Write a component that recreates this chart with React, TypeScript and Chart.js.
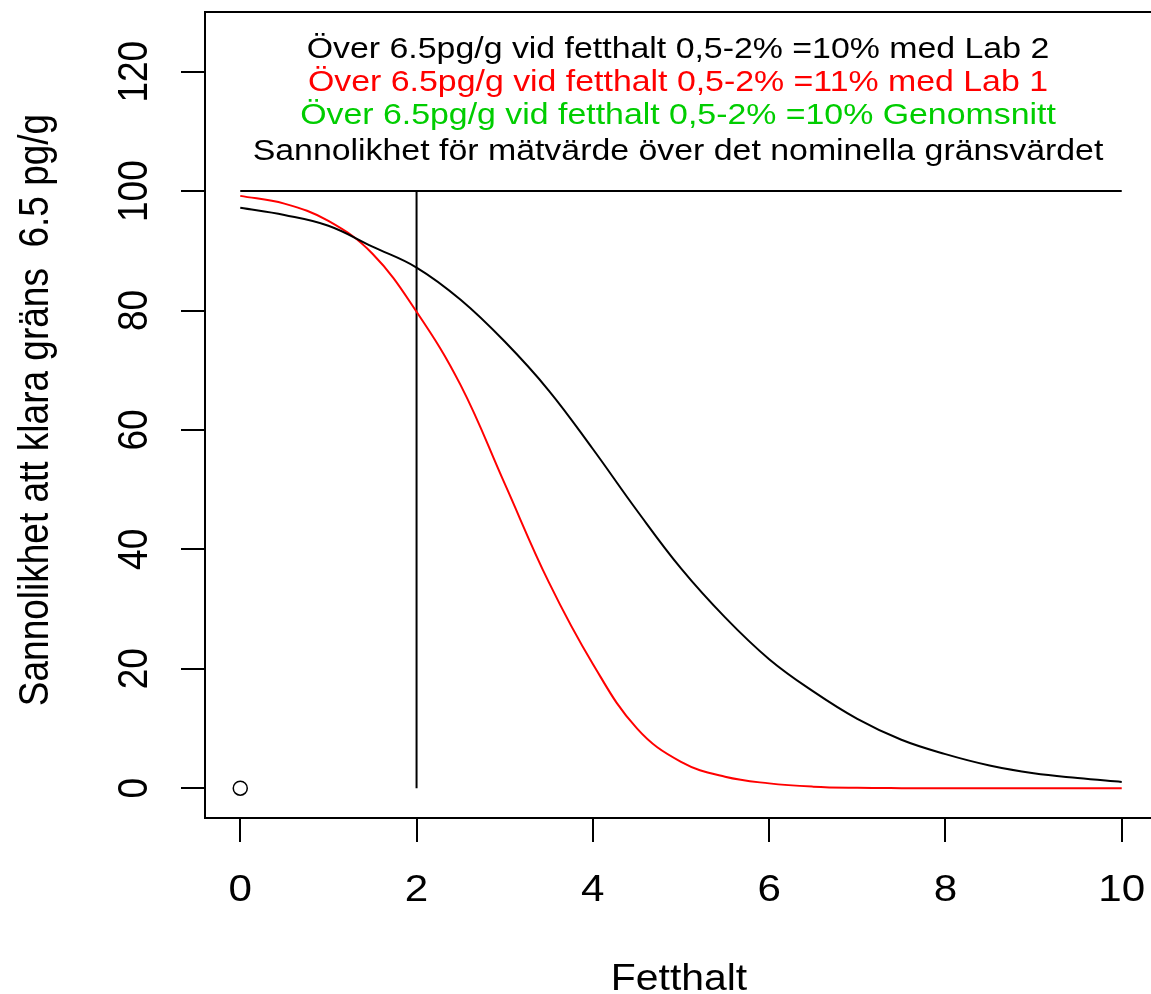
import React, { useEffect, useRef } from "react";
import { Chart, registerables } from "chart.js";

Chart.register(...registerables);

const xValues = [0, 0.5, 1, 1.5, 2, 2.5, 3, 3.5, 4, 4.5, 5, 5.5, 6, 6.5, 7, 7.5, 8, 8.5, 9, 9.5, 10];
const lab2Values = [97.2, 96.0, 94.2, 90.7, 87.2, 81.8, 74.8, 66.6, 56.8, 46.5, 36.8, 28.6, 21.6, 16.2, 11.6, 8.1, 5.7, 3.8, 2.5, 1.7, 1.05];
const lab1Values = [99.2, 97.9, 95.0, 89.5, 79.8, 67.5, 51.0, 34.5, 20.8, 10.0, 4.4, 1.9, 0.8, 0.25, 0.05, 0, 0, 0, 0, 0, 0];
const limitLineX = [0, 10];
const limitLineY = [100, 100];
const cutLineX = [2, 2];
const cutLineY = [0, 100];
const originPoint = [0, 0];

const xTicks = [0, 2, 4, 6, 8, 10];
const yTicks = [0, 20, 40, 60, 80, 100, 120];
const titleLines = [
  "Över 6.5pg/g vid fetthalt 0,5-2% =10% med Lab 2",
  "Över 6.5pg/g vid fetthalt 0,5-2% =11% med Lab 1",
  "Över 6.5pg/g vid fetthalt 0,5-2% =10% Genomsnitt",
  "Sannolikhet för mätvärde över det nominella gränsvärdet",
];
const titleColors = ["#000000", "#FF0000", "#00CD00", "#000000"];
const xTitle = "Fetthalt";
const yTitle = "Sannolikhet att klara gräns  6.5 pg/g";

const FONT = "'Liberation Sans', Arial, sans-serif";
const SX = 1.14;

const CANVAS_W = 1170;
const CANVAS_H = 994;

const axesPlugin = {
  id: "rAxes",
  afterDraw(chart: any) {
    const ctx = chart.ctx as CanvasRenderingContext2D;
    const xs = chart.scales.x;
    const ys = chart.scales.y;
    const a = chart.chartArea;
    ctx.save();
    ctx.strokeStyle = "#000";
    ctx.lineWidth = 2;
    ctx.strokeRect(a.left, a.top, a.right - a.left, a.bottom - a.top);

    ctx.beginPath();
    for (const t of xTicks) {
      const px = Math.round(xs.getPixelForValue(t));
      ctx.moveTo(px, a.bottom);
      ctx.lineTo(px, a.bottom + 24);
    }
    for (const t of yTicks) {
      const py = Math.round(ys.getPixelForValue(t));
      ctx.moveTo(a.left, py);
      ctx.lineTo(a.left - 24, py);
    }
    ctx.stroke();

    ctx.fillStyle = "#000";
    ctx.font = `37px ${FONT}`;
    ctx.textAlign = "center";
    ctx.textBaseline = "alphabetic";
    for (const t of xTicks) {
      const px = xs.getPixelForValue(t);
      ctx.save();
      ctx.translate(px, 901);
      ctx.scale(SX, 1);
      ctx.fillText(String(t), 0, 0);
      ctx.restore();
    }
    for (const t of yTicks) {
      const py = ys.getPixelForValue(t);
      ctx.save();
      ctx.translate(147, py);
      ctx.rotate(-Math.PI / 2);
      ctx.scale(1, SX);
      ctx.fillText(String(t), 0, 0);
      ctx.restore();
    }
    ctx.save();
    ctx.translate((a.left + a.right) / 2 - 2, 990);
    ctx.scale(SX * 0.97, 1);
    ctx.fillText(xTitle, 0, 0);
    ctx.restore();
    ctx.save();
    ctx.translate(48, 410);
    ctx.rotate(-Math.PI / 2);
    ctx.scale(1, SX);
    ctx.fillText(yTitle, 0, 0);
    ctx.restore();

    const baselines = [58, 91, 124, 160];
    ctx.font = `30px ${FONT}`;
    const cx = xs.getPixelForValue(5) - 3;
    titleLines.forEach((line, i) => {
      ctx.save();
      ctx.fillStyle = titleColors[i];
      ctx.translate(cx, baselines[i]);
      ctx.scale(SX * 0.99, 1);
      ctx.fillText(line, 0, 0);
      ctx.restore();
    });
    ctx.restore();
  },
};

export default function App() {
  const ref = useRef<HTMLCanvasElement>(null);
  useEffect(() => {
    if (!ref.current) return;
    const toPts = (xsArr: number[], ysArr: number[]) => xsArr.map((x, i) => ({ x, y: ysArr[i] }));
    const chart = new Chart(ref.current, {
      type: "scatter",
      data: {
        datasets: [
          {
            label: "Lab 2",
            data: toPts(xValues, lab2Values),
            showLine: true,
            borderColor: "#000000",
            borderWidth: 2,
            pointRadius: 0,
            tension: 0.4,
          },
          {
            label: "Lab 1",
            data: toPts(xValues, lab1Values),
            showLine: true,
            borderColor: "#FF0000",
            borderWidth: 2,
            pointRadius: 0,
            tension: 0.4,
          },
          {
            label: "Gräns",
            data: toPts(limitLineX, limitLineY),
            showLine: true,
            borderColor: "#000000",
            borderWidth: 2,
            pointRadius: 0,
          },
          {
            label: "Fetthalt 2",
            data: toPts(cutLineX, cutLineY),
            showLine: true,
            borderColor: "#000000",
            borderWidth: 2,
            pointRadius: 0,
          },
          {
            label: "Origo",
            data: [{ x: originPoint[0], y: originPoint[1] }],
            showLine: false,
            borderColor: "#000000",
            backgroundColor: "rgba(0,0,0,0)",
            borderWidth: 1.5,
            pointRadius: 7,
            pointStyle: "circle",
          },
        ],
      } as any,
      options: {
        animation: false,
        responsive: false,
        devicePixelRatio: 1,
        layout: { padding: { left: 205, top: 12, right: CANVAS_W - 1157, bottom: CANVAS_H - 818 } },
        plugins: { legend: { display: false }, tooltip: { enabled: false } },
        events: [],
        scales: {
          x: { type: "linear", min: -0.4, max: 10.4, display: false },
          y: { type: "linear", min: -5, max: 130, display: false },
        },
      } as any,
      plugins: [axesPlugin],
    });
    return () => chart.destroy();
  }, []);
  return (
    <div style={{ position: "fixed", left: 0, top: 0, width: 1151, height: 994, overflow: "hidden", background: "#fff" }}>
      <canvas ref={ref} width={CANVAS_W} height={CANVAS_H} style={{ display: "block" }} />
    </div>
  );
}
